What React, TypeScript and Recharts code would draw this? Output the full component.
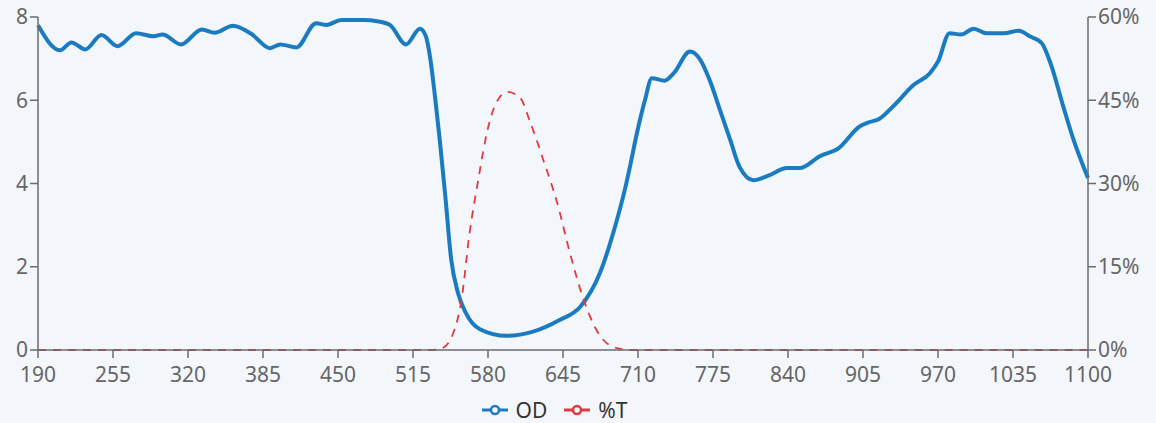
import React from "react";
import { LineChart, Line, XAxis, YAxis, Legend } from "recharts";

const wavelengths = [190,209,219,231,245,259,275,290,298,314,332,343,359,375,391,400,414,431,440,453,472,484,495,509,521,526,530,534,538,543,548,554,561,573,596,619,642,660,677,691,699,703,709,716,722,733,741,755,764,772,781,790,798,810,824,839,850,868,884,902,910,919,931,949,963,970,980,990,1001,1012,1027,1040,1050,1060,1067,1079,1087,1100];
const odValues = [7.8,7.2,7.39,7.22,7.57,7.3,7.61,7.54,7.58,7.34,7.7,7.62,7.79,7.59,7.25,7.34,7.27,7.85,7.81,7.93,7.93,7.9,7.81,7.34,7.72,7.55,7.0,6.1,5.1,3.7,2.2,1.37,0.88,0.5,0.34,0.44,0.72,1.04,1.85,3.05,3.9,4.4,5.2,6.0,6.53,6.47,6.65,7.17,6.97,6.49,5.77,5.04,4.4,4.08,4.2,4.37,4.37,4.66,4.85,5.37,5.47,5.55,5.85,6.37,6.65,6.93,7.61,7.58,7.72,7.61,7.61,7.67,7.53,7.37,6.93,5.81,5.09,4.13];

const tWavelengths = [190,530,540,550,557,564,572,579,587,597,608,616,628,640,651,663,674,688,703,1100];
const tValues = [0,0,0.3,3.1,9,21,31.2,39.1,44.5,46.5,45.4,41.4,34.2,26.5,17.5,9,3.6,0.6,0,0];

const xTicks = [190,255,320,385,450,515,580,645,710,775,840,905,970,1035,1100];
const leftTicks = [0,2,4,6,8];
const rightTicks = [0,15,30,45,60];

const odData = wavelengths.map((w, i) => ({ w, od: odValues[i] }));
const tData = tWavelengths.map((w, i) => ({ w, t: tValues[i] }));

const BLUE = "#1b7bc1";
const RED = "#e0393e";
const AXIS = "#6b6b6b";
const FONT = "'Noto Sans', sans-serif";

const legendItems = [
  { name: "OD", color: BLUE },
  { name: "%T", color: RED },
];

function LegendContent() {
  return (
    <div
      style={{
        height: 31,
        boxSizing: "border-box",
        paddingTop: 4,
        paddingRight: 48,
        display: "flex",
        justifyContent: "center",
        alignItems: "center",
        gap: 16,
        fontFamily: FONT,
        fontSize: 21,
        color: "#333",
      }}
    >
      {legendItems.map((it) => (
        <div key={it.name} style={{ display: "flex", alignItems: "center", gap: 7 }}>
          <svg width={28} height={14} style={{ display: "block" }}>
            <line x1={1} y1={7} x2={27} y2={7} stroke={it.color} strokeWidth={3} />
            <circle cx={14} cy={7} r={4} fill="#f3f7fb" stroke={it.color} strokeWidth={2.5} />
          </svg>
          <span style={{ lineHeight: "26px" }}>{it.name}</span>
        </div>
      ))}
    </div>
  );
}

export default function App() {
  const tickStyle = { fill: "#666", fontSize: 21, fontFamily: FONT };
  return (
    <div style={{ position: "absolute", left: 0, top: 0, width: 1156, height: 423, background: "#f3f7fb" }}>
      <LineChart width={1156} height={423} margin={{ top: 17, right: 0, bottom: 0, left: 0 }}>
        <XAxis
          dataKey="w"
          type="number"
          domain={[190, 1100]}
          ticks={xTicks}
          interval={0}
          allowDuplicatedCategory={false}
          height={42}
          stroke={AXIS}
          strokeWidth={1.5}
          tickSize={8}
          tick={{ ...tickStyle, dy: 7 }}
        />
        <YAxis
          yAxisId="left"
          domain={[0, 8]}
          ticks={leftTicks}
          width={38}
          stroke={AXIS}
          strokeWidth={1.5}
          tickSize={8}
          tick={tickStyle}
        />
        <YAxis
          yAxisId="right"
          orientation="right"
          domain={[0, 60]}
          ticks={rightTicks}
          width={68}
          stroke={AXIS}
          strokeWidth={1.5}
          tickSize={8}
          tick={tickStyle}
          tickFormatter={(v: number) => `${v}%`}
        />
        <Legend
          verticalAlign="bottom"
          align="center"
          content={<LegendContent />}
          wrapperStyle={{ height: 31 }}
        />
        <Line
          yAxisId="left"
          data={odData}
          dataKey="od"
          name="OD"
          type="monotone"
          stroke={BLUE}
          strokeWidth={4}
          dot={false}
          isAnimationActive={false}
        />
        <Line
          yAxisId="right"
          data={tData}
          dataKey="t"
          name="%T"
          type="monotone"
          stroke={RED}
          strokeWidth={1.8}
          strokeDasharray="8 7"
          dot={false}
          isAnimationActive={false}
        />
      </LineChart>
    </div>
  );
}
